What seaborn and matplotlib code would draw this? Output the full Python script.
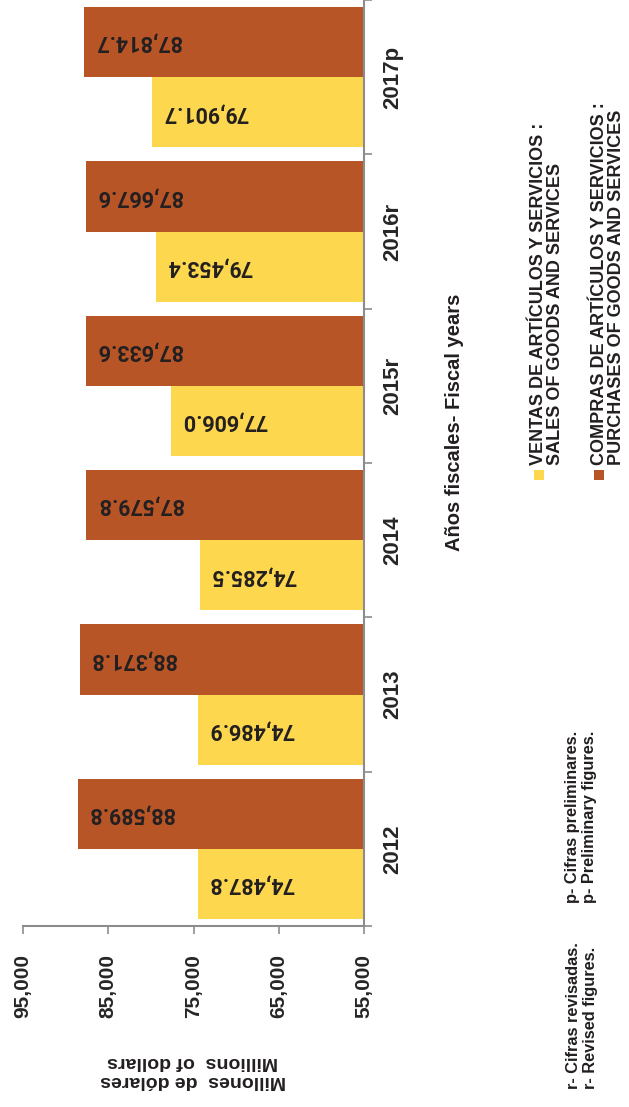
import numpy as np
import pandas as pd
import seaborn as sns
import matplotlib.pyplot as plt
from matplotlib.patches import Rectangle

# data
years = ['2012', '2013', '2014', '2015r', '2016r', '2017p']
ventas = [74487.8, 74486.9, 74285.5, 77606.0, 79453.4, 79901.7]
compras = [88589.8, 88371.8, 87579.8, 87633.6, 87667.6, 87814.7]
x_ticks = [95000, 85000, 75000, 65000, 55000]
x_ticklabels = ['95,000', '85,000', '75,000', '65,000', '55,000']

lbl_ventas = 'VENTAS DE ARTÍCULOS Y SERVICIOS :\nSALES OF GOODS AND SERVICES'
lbl_compras = 'COMPRAS DE ARTÍCULOS Y SERVICIOS :\nPURCHASES OF GOODS AND SERVICES'

yellow = '#fdd84e'
brown = '#b85527'
grey = '#8c8c8c'
txt = '#231f20'

df = pd.DataFrame({
    'year': years * 2,
    'value': ventas + compras,
    'serie': ['ventas'] * len(years) + ['compras'] * len(years),
})

sns.set_style('white')
plt.rcParams['font.family'] = ['Liberation Sans', 'DejaVu Sans']

W, H = 629, 1107
fig = plt.figure(figsize=(W / 100, H / 100), dpi=100)
ax = fig.add_axes([23 / W, 1 - 926 / H, 341 / W, 926 / H])

sns.barplot(data=df, y='year', x='value', hue='serie', order=years[::-1],
            hue_order=['compras', 'ventas'], palette=[brown, yellow],
            saturation=1, width=0.91, orient='h', linewidth=0,
            legend=False, ax=ax)

ax.set_xlim(95000, 55000)
ax.set_ylim(5.5, -0.5)
ax.set_xlabel('')
ax.set_ylabel('')

# value labels, upside down like the source
for cont in ax.containers:
    for bar in cont:
        v = bar.get_width()
        ax.annotate(f'{v:,.1f}', xy=(v, bar.get_y() + bar.get_height() / 2),
                    xytext=(8, 0), textcoords='offset points', rotation=180,
                    ha='left', va='center', fontsize=15.5, fontweight='bold',
                    family='Roboto', color=txt)

sns.despine(ax=ax, left=True, top=True, right=False, bottom=False)
for s in ['right', 'bottom']:
    ax.spines[s].set_color(grey)
    ax.spines[s].set_linewidth(1.5)

# category axis on the right
ax.yaxis.tick_right()
ax.set_yticks(np.arange(-0.5, 6, 1), minor=True)
ax.tick_params(axis='y', which='major', length=0, pad=13, labelsize=16,
               labelrotation=90, right=True, left=False)
ax.tick_params(axis='y', which='minor', length=6, width=1.2, color=grey,
               right=True, left=False)
for t in ax.get_yticklabels():
    t.set_va('center')
    t.set_fontweight('bold')

ax.set_xticks(x_ticks)
ax.set_xticklabels(x_ticklabels)
ax.tick_params(axis='x', length=6, width=1.2, color=grey, pad=14,
               labelsize=15, labelrotation=90, bottom=True)
for t in ax.get_xticklabels():
    t.set_va('top')
    t.set_ha('center')
    t.set_fontweight('bold')


def fx(px):
    return px / W


def fy(py):
    return 1 - py / H


fig.text(fx(193), fy(1071), 'Millones  de dólares\nMillions  of dollars',
         rotation=180, ha='center', va='center', fontsize=14,
         fontweight='bold', color=txt, linespacing=1.15)

fig.text(fx(455), fy(422), 'Años fiscales- Fiscal years', rotation=90,
         ha='center', va='center', fontsize=14.5, fontweight='bold', color=txt)

# legend
fig.add_artist(Rectangle((fx(534), fy(480)), 10 / W, 10 / H,
                         transform=fig.transFigure, color=yellow, lw=0))
fig.add_artist(Rectangle((fx(594), fy(480)), 10 / W, 10 / H,
                         transform=fig.transFigure, color=brown, lw=0))
fig.text(fx(547), fy(465), lbl_ventas, rotation=90, ha='center', va='bottom',
         multialignment='left', fontsize=13, fontweight='bold', color=txt,
         linespacing=1.05)
fig.text(fx(608), fy(465), lbl_compras, rotation=90, ha='center', va='bottom',
         multialignment='left', fontsize=13, fontweight='bold', color=txt,
         linespacing=1.05)

# notes
fig.text(fx(582), fy(1089), 'r- Cifras revisadas.\nr- Revised figures.',
         rotation=90, ha='center', va='bottom', multialignment='left',
         fontsize=11.8, fontweight='bold', color=txt, linespacing=1.15)
fig.text(fx(581), fy(903), 'p- Cifras preliminares.\np- Preliminary figures.',
         rotation=90, ha='center', va='bottom', multialignment='left',
         fontsize=11.8, fontweight='bold', color=txt, linespacing=1.15)

fig.savefig('out.png', dpi=100)
